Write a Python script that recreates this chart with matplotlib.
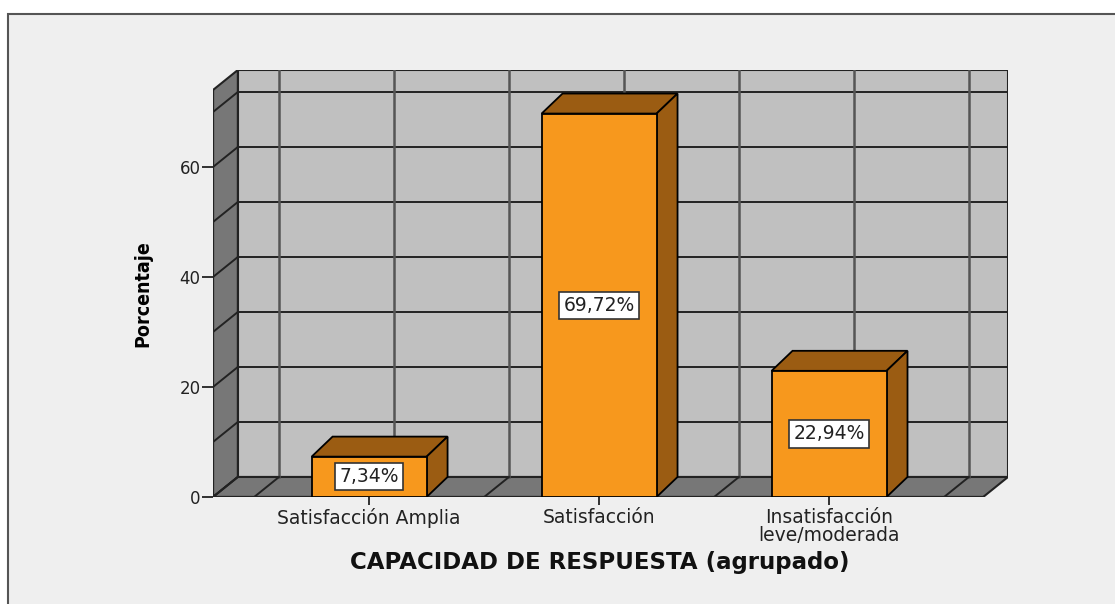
import matplotlib
matplotlib.use("Agg")
import matplotlib.pyplot as plt
from matplotlib.patches import Polygon, Rectangle

categorias = ["Satisfacción Amplia", "Satisfacción", "Insatisfacción\nleve/moderada"]
porcentajes = [7.34, 69.72, 22.94]
etiquetas = ["7,34%", "69,72%", "22,94%"]
yticks = [0, 20, 40, 60]

# geometria del "3D" (unidades de datos)
XL, XR = -0.679, 2.67     # bordes frontales izq/der
YT = 74.0                 # techo frontal
DX, DY = 0.108, 3.64      # profundidad paredes
BDX, BDY = 0.091, 3.64    # profundidad barras
ANCHO = 0.5

NARANJA = "#f7981d"
MARRON = "#9b5c12"
PARED = "#c0c0c0"
OSCURO = "#777777"

fig = plt.figure(figsize=(11.15, 6.04), dpi=100, facecolor="white")
fondo = fig.add_axes([0, 0, 1, 1], zorder=-5)
fondo.set_xlim(0, 1115)
fondo.set_ylim(604, 0)
fondo.axis("off")
fondo.add_patch(Rectangle((8, 14), 1200, 700, facecolor="#efefef", edgecolor="#555555", linewidth=1.5))

ax = fig.add_axes([213 / 1115, 107 / 604, 795 / 1115, 427 / 604])
ax.set_xlim(XL, XR + DX)
ax.set_ylim(0, YT + DY)
ax.patch.set_visible(False)
for s in ax.spines.values():
    s.set_visible(False)

# pared del fondo
ax.add_patch(Polygon([(XL + DX, DY), (XR + DX, DY), (XR + DX, YT + DY), (XL + DX, YT + DY)],
                     closed=True, facecolor=PARED, edgecolor="#222222", linewidth=1.5, zorder=1))
# pared izquierda
ax.add_patch(Polygon([(XL, 0), (XL + DX, DY), (XL + DX, YT + DY), (XL, YT)],
                     closed=True, facecolor=OSCURO, edgecolor="#222222", linewidth=1.5, zorder=1))
# suelo
ax.add_patch(Polygon([(XL, 0), (XR, 0), (XR + DX, DY), (XL + DX, DY)],
                     closed=True, facecolor=OSCURO, edgecolor="#222222", linewidth=1.5, zorder=1))

# rejilla horizontal
for v in range(0, 80, 10):
    ax.plot([XL + DX, XR + DX], [v + DY, v + DY], color="#222222", lw=1.4, zorder=2)
    ax.plot([XL, XL + DX], [v, v + DY], color="#222222", lw=1.4, zorder=2)
# rejilla vertical
for g in [-0.5, 0, 0.5, 1, 1.5, 2, 2.5]:
    ax.plot([g + DX, g + DX], [DY, YT + DY], color="#555555", lw=1.8, zorder=2)
    ax.plot([g, g + DX], [0, DY], color="#222222", lw=1.4, zorder=2)
ax.plot([XL, XL], [0, YT], color="#222222", lw=1.6, zorder=2)
ax.plot([XL, XR], [0, 0], color="#222222", lw=1.6, zorder=2)

# barras
for i, (v, lab) in enumerate(zip(porcentajes, etiquetas)):
    x0, x1 = i - ANCHO / 2, i + ANCHO / 2
    ax.add_patch(Polygon([(x0, v), (x1, v), (x1 + BDX, v + BDY), (x0 + BDX, v + BDY)],
                         closed=True, facecolor=MARRON, edgecolor="black", linewidth=1.3, zorder=3))
    ax.add_patch(Polygon([(x1, 0), (x1 + BDX, BDY), (x1 + BDX, v + BDY), (x1, v)],
                         closed=True, facecolor=MARRON, edgecolor="black", linewidth=1.3, zorder=3))
    ax.add_patch(Rectangle((x0, 0), ANCHO, v, facecolor=NARANJA, edgecolor="black",
                           linewidth=1.3, zorder=4))
    ax.text(i, v / 2, lab, ha="center", va="center", fontsize=13.5, color="#222222", zorder=5,
            bbox=dict(boxstyle="square,pad=0.22", facecolor="white", edgecolor="#333333", linewidth=1.2))

ax.set_xticks(range(len(categorias)))
ax.set_xticklabels(categorias, fontsize=13.5, linespacing=0.92, color="#222222")
ax.set_yticks(yticks)
ax.set_yticklabels([str(t) for t in yticks], fontsize=12, color="#222222")
ax.tick_params(axis="y", length=8, width=1.3, color="#222222", pad=1)
ax.tick_params(axis="x", length=6, width=1.3, color="#222222", pad=2)

fig.text(143 / 1115, 1 - 294 / 604, "Porcentaje", rotation=90, ha="center", va="center",
         fontsize=14, fontweight="bold", fontstretch="condensed",
         family=["Liberation Sans Narrow", "DejaVu Sans"])
fig.text(600 / 1115, 1 - 563 / 604, "CAPACIDAD DE RESPUESTA (agrupado)", ha="center", va="center",
         fontsize=16.5, fontweight="bold", color="#111111")

fig.savefig("out.png", dpi=100, facecolor=fig.get_facecolor())
